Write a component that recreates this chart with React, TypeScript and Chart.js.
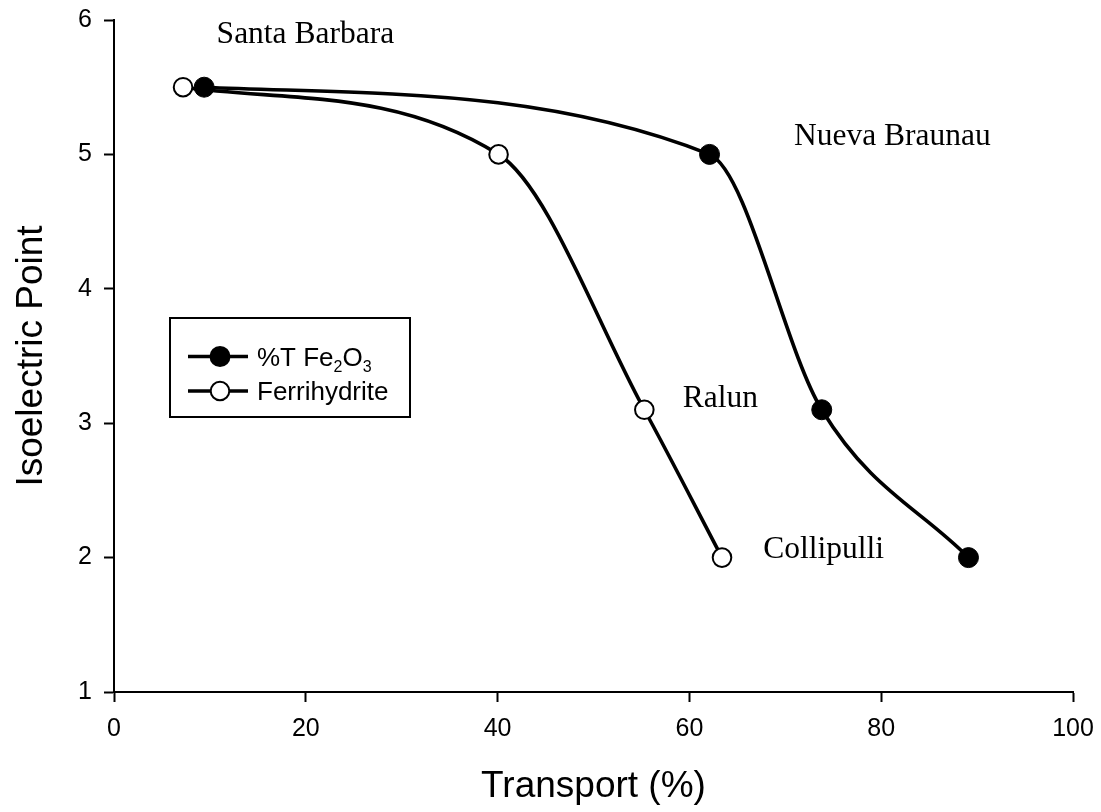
import React, { useEffect, useRef } from "react";
import { Chart, registerables } from "chart.js";

Chart.register(...registerables);

// Transport (%) and isoelectric point for each soil, two iron oxide measures
const transportFe2O3 = [9.4, 62.1, 73.8, 89.1];
const iepFe2O3 = [5.5, 5.0, 3.1, 2.0];
const transportFerrihydrite = [7.2, 40.1, 55.3, 63.4];
const iepFerrihydrite = [5.5, 5.0, 3.1, 2.0];

// Axis tick values
const xTickValues = [0, 20, 40, 60, 80, 100];
const yTickValues = [1, 2, 3, 4, 5, 6];

// Soil site names and where each name sits (in axis units: x, y of text baseline start)
const siteNames = ["Santa Barbara", "Nueva Braunau", "Ralun", "Collipulli"];
const siteAnchorX = [10.7, 70.9, 59.3, 67.7];
const siteAnchorY = [5.83, 5.07, 3.12, 2.0];

const SANS = '"Liberation Sans", Arial, sans-serif';
const SERIF = '"Liberation Serif", "Times New Roman", serif';

function drawMarker(ctx: CanvasRenderingContext2D, cx: number, cy: number, filled: boolean) {
  ctx.beginPath();
  ctx.arc(cx, cy, filled ? 10.5 : 9.3, 0, Math.PI * 2);
  if (filled) {
    ctx.fillStyle = "#000";
    ctx.fill();
  } else {
    ctx.fillStyle = "#fff";
    ctx.fill();
    ctx.lineWidth = 2;
    ctx.strokeStyle = "#000";
    ctx.stroke();
  }
}

const overlayPlugin = {
  id: "overlay",
  afterDatasetsDraw(chart: any) {
    const { ctx, chartArea, scales } = chart;
    const xs = scales.x;
    const ys = scales.y;
    ctx.save();

    // site names
    ctx.font = `31.5px ${SERIF}`;
    ctx.fillStyle = "#000";
    ctx.textAlign = "left";
    ctx.textBaseline = "alphabetic";
    siteNames.forEach((name, i) => {
      ctx.fillText(name, xs.getPixelForValue(siteAnchorX[i]), ys.getPixelForValue(siteAnchorY[i]));
    });

    // legend box
    const left = chartArea.left + 56;
    const top = chartArea.top + 298;
    const w = 240;
    const h = 99;
    ctx.lineWidth = 2;
    ctx.strokeStyle = "#000";
    ctx.fillStyle = "#fff";
    ctx.fillRect(left, top, w, h);
    ctx.strokeRect(left, top, w, h);

    const rows = [
      { filled: true, parts: [["%T Fe", false], ["2", true], ["O", false], ["3", true]] as [string, boolean][] },
      { filled: false, parts: [["Ferrihydrite", false]] as [string, boolean][] },
    ];
    rows.forEach((row, i) => {
      const cy = top + 38.5 + i * 34.5;
      ctx.beginPath();
      ctx.moveTo(left + 18, cy);
      ctx.lineTo(left + 78, cy);
      ctx.lineWidth = 3.6;
      ctx.strokeStyle = "#000";
      ctx.stroke();
      drawMarker(ctx, left + 50, cy, row.filled);

      let tx = left + 87;
      ctx.fillStyle = "#000";
      ctx.textAlign = "left";
      ctx.textBaseline = "alphabetic";
      row.parts.forEach(([text, sub]) => {
        ctx.font = sub ? `16px ${SANS}` : `26px ${SANS}`;
        ctx.fillText(text, tx, cy + 9 + (sub ? 6 : 0));
        tx += ctx.measureText(text).width;
      });
    });

    ctx.restore();
  },
};

export default function App() {
  const canvasRef = useRef<HTMLCanvasElement | null>(null);

  useEffect(() => {
    document.body.style.margin = "0";
    const canvas = canvasRef.current;
    if (!canvas) return;

    const fe = transportFe2O3.map((x, i) => ({ x, y: iepFe2O3[i] }));
    const fh = transportFerrihydrite.map((x, i) => ({ x, y: iepFerrihydrite[i] }));

    const axisGrid = {
      display: true,
      drawOnChartArea: false,
      drawTicks: true,
      tickLength: 10,
      tickWidth: 2,
      tickColor: "#000",
      color: "#000",
    };

    const chart = new Chart(canvas, {
      type: "line",
      data: {
        datasets: [
          {
            label: "%T Fe2O3",
            data: fe,
            borderColor: "#000",
            borderWidth: 3.6,
            backgroundColor: "#000",
            pointBackgroundColor: "#000",
            pointBorderColor: "#000",
            pointBorderWidth: 1,
            pointRadius: 10,
            cubicInterpolationMode: "monotone",
            fill: false,
          },
          {
            label: "Ferrihydrite",
            data: fh,
            borderColor: "#000",
            borderWidth: 3.6,
            backgroundColor: "#fff",
            pointBackgroundColor: "#fff",
            pointBorderColor: "#000",
            pointBorderWidth: 2,
            pointRadius: 9.3,
            cubicInterpolationMode: "monotone",
            fill: false,
          },
        ],
      },
      options: {
        responsive: false,
        animation: false,
        events: [],
        layout: { padding: { left: 0, top: 20, right: 28, bottom: 0 } },
        plugins: {
          legend: { display: false },
          tooltip: { enabled: false },
        },
        scales: {
          x: {
            type: "linear",
            min: 0,
            max: 100,
            afterBuildTicks: (s: any) => {
              s.ticks = xTickValues.map((v) => ({ value: v }));
            },
            afterFit: (s: any) => {
              s.height = 120;
              s.paddingLeft = 0;
              s.paddingRight = 0;
            },
            grid: axisGrid,
            border: { display: true, color: "#000", width: 2 },
            ticks: {
              color: "#000",
              font: { family: SANS, size: 25 },
              padding: 12,
              maxRotation: 0,
            },
            title: {
              display: true,
              text: "Transport (%)",
              color: "#000",
              font: { family: SANS, size: 37 },
              padding: { top: 0, bottom: 3 },
            },
          },
          y: {
            type: "linear",
            min: 1,
            max: 6,
            afterBuildTicks: (s: any) => {
              s.ticks = yTickValues.map((v) => ({ value: v }));
            },
            afterFit: (s: any) => {
              s.width = 114;
              s.paddingTop = 0;
              s.paddingBottom = 0;
            },
            grid: axisGrid,
            border: { display: true, color: "#000", width: 2 },
            ticks: {
              color: "#000",
              font: { family: SANS, size: 25 },
              padding: 12,
            },
            title: {
              display: true,
              text: "Isoelectric Point",
              color: "#000",
              font: { family: SANS, size: 37 },
              padding: { top: 10, bottom: 0 },
            },
          },
        },
      },
      plugins: [overlayPlugin],
    });

    return () => chart.destroy();
  }, []);

  return (
    <div style={{ width: 1101, height: 812, background: "#fff" }}>
      <canvas ref={canvasRef} width={1101} height={812} style={{ display: "block" }} />
    </div>
  );
}
